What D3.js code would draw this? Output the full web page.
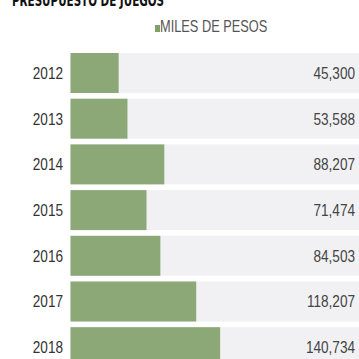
<!DOCTYPE html>
<html>
<head>
<meta charset="utf-8">
<script src="https://cdn.jsdelivr.net/npm/d3@7"></script>
<style>
  body { margin: 0; background: #fff; }
  svg { display: block; }
</style>
</head>
<body>
<div class="canvas"></div>
<script>
// chart data
const years = ['2012', '2013', '2014', '2015', '2016', '2017', '2018'];
const values = [45300, 53588, 88207, 71474, 84503, 118207, 140734];
const valueLabels = ['45,300', '53,588', '88,207', '71,474', '84,503', '118,207', '140,734'];

const dims = { width: 359, height: 359 };
const narrow = 0.8; // horizontal squeeze for the condensed look

const svg = d3.select('.canvas')
    .append('svg')
    .attr('width', dims.width)
    .attr('height', dims.height);

// title, cut at the top edge like the clipping
svg.append('text')
    .attr('x', 12)
    .attr('y', 6)
    .attr('textLength', 152)
    .attr('lengthAdjust', 'spacingAndGlyphs')
    .style('font-family', 'DejaVu Sans Condensed, DejaVu Sans')
    .style('font-weight', '900')
    .style('font-size', '16px')
    .attr('fill', '#111')
    .text('PRESUPUESTO DE JUEGOS');

// legend
svg.append('rect')
    .attr('x', 155)
    .attr('y', 25)
    .attr('width', 5)
    .attr('height', 7)
    .attr('fill', '#7fa366');

svg.append('text')
    .attr('transform', `translate(160, 32) scale(${narrow}, 1)`)
    .style('font-family', 'Liberation Sans')
    .style('font-size', '16px')
    .attr('fill', '#555')
    .text('MILES DE PESOS');

// scales
const y = d3.scaleBand()
    .domain(years)
    .range([53, 53 + 45.7 * 6.875])
    .paddingInner(0.125)
    .paddingOuter(0);

const x = d3.scaleLinear()
    .domain([0, 150000])
    .range([70.5, 230]);

const rows = svg.append('g')
    .selectAll('g')
    .data(years)
    .enter()
    .append('g');

// grey background bands
rows.append('rect')
    .attr('x', x(0))
    .attr('y', d => y(d))
    .attr('width', dims.width - x(0))
    .attr('height', y.bandwidth())
    .attr('fill', '#f1f1f3');

// green bars
rows.append('rect')
    .attr('x', x(0))
    .attr('y', d => y(d))
    .attr('width', (d, i) => x(values[i]) - x(0))
    .attr('height', y.bandwidth())
    .attr('fill', '#8ba876');

// year labels
rows.append('text')
    .attr('transform', d => `translate(63, ${y(d) + y.bandwidth() / 2}) scale(${narrow}, 1)`)
    .attr('dy', '0.35em')
    .attr('text-anchor', 'end')
    .style('font-family', 'Liberation Sans')
    .style('font-size', '17px')
    .attr('fill', '#333')
    .text(d => d);

// value labels
rows.append('text')
    .attr('transform', d => `translate(355, ${y(d) + y.bandwidth() / 2}) scale(${narrow}, 1)`)
    .attr('dy', '0.35em')
    .attr('text-anchor', 'end')
    .style('font-family', 'Liberation Sans')
    .style('font-size', '17px')
    .attr('fill', '#444')
    .text((d, i) => valueLabels[i]);
</script>
</body>
</html>
